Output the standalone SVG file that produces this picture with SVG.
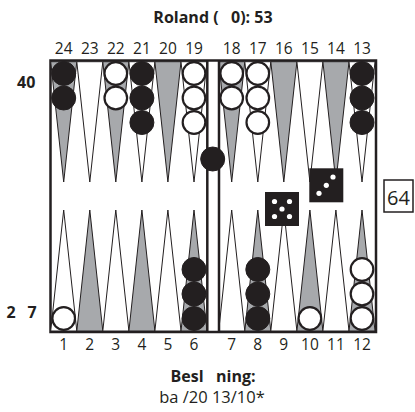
<svg xmlns="http://www.w3.org/2000/svg" width="415" height="412" viewBox="0 0 415 412">
  <style>
    .txt { font-family: "Open Sans", "Noto Sans", sans-serif; fill: #231f20; }
    .b { font-weight: bold; }
    .num { font-size: 15.5px; text-anchor: middle; }
    .pre { white-space: pre; }
    .pt-g { fill: #a7a9ac; stroke: #231f20; stroke-width: 1; stroke-linejoin: miter; }
    .pt-w { fill: #ffffff; stroke: #231f20; stroke-width: 1; }
    .ck-b { fill: #231f20; stroke: #231f20; stroke-width: 1; }
    .ck-w { fill: #ffffff; stroke: #231f20; stroke-width: 2.2; }
    .frame { fill: #ffffff; stroke: #231f20; stroke-width: 2.5; }
    .bar { stroke: #231f20; stroke-width: 2.5; }
    .die { fill: #231f20; }
    .pip { fill: #ffffff; }
  </style>

  <!-- title -->
  <text class="txt b pre" x="213" y="23" font-size="16" text-anchor="middle">Roland (   0): 53</text>

  <!-- board frame -->
  <g id="board">
    <rect class="frame" x="50.5" y="60.5" width="325.5" height="271.5"/>
    <!-- top points 24..19 (left) and 18..13 (right) -->
    <polygon class="pt-g" points="50.7,61.7 76.8,61.7 63.7,182"/>
    <polygon class="pt-w" points="76.8,61.7 102.8,61.7 89.8,182"/>
    <polygon class="pt-g" points="102.8,61.7 128.9,61.7 115.8,182"/>
    <polygon class="pt-w" points="128.9,61.7 154.9,61.7 141.9,182"/>
    <polygon class="pt-g" points="154.9,61.7 181.0,61.7 167.9,182"/>
    <polygon class="pt-w" points="181.0,61.7 207.0,61.7 194.0,182"/>
    <polygon class="pt-g" points="218.7,61.7 244.8,61.7 231.7,182"/>
    <polygon class="pt-w" points="244.8,61.7 270.8,61.7 257.8,182"/>
    <polygon class="pt-g" points="270.8,61.7 296.9,61.7 283.8,182"/>
    <polygon class="pt-w" points="296.9,61.7 322.9,61.7 309.9,182"/>
    <polygon class="pt-g" points="322.9,61.7 349.0,61.7 335.9,182"/>
    <polygon class="pt-w" points="349.0,61.7 375.0,61.7 362.0,182"/>
    <!-- bottom points 1..6 (left) and 7..12 (right) -->
    <polygon class="pt-w" points="50.7,331 76.8,331 63.7,210"/>
    <polygon class="pt-g" points="76.8,331 102.8,331 89.8,210"/>
    <polygon class="pt-w" points="102.8,331 128.9,331 115.8,210"/>
    <polygon class="pt-g" points="128.9,331 154.9,331 141.9,210"/>
    <polygon class="pt-w" points="154.9,331 181.0,331 167.9,210"/>
    <polygon class="pt-g" points="181.0,331 207.0,331 194.0,210"/>
    <polygon class="pt-w" points="218.7,331 244.8,331 231.7,210"/>
    <polygon class="pt-g" points="244.8,331 270.8,331 257.8,210"/>
    <polygon class="pt-w" points="270.8,331 296.9,331 283.8,210"/>
    <polygon class="pt-g" points="296.9,331 322.9,331 309.9,210"/>
    <polygon class="pt-w" points="322.9,331 349.0,331 335.9,210"/>
    <polygon class="pt-g" points="349.0,331 375.0,331 362.0,210"/>
    <!-- bar -->
    <line class="bar" x1="207.3" y1="60.5" x2="207.3" y2="332"/>
    <line class="bar" x1="219" y1="60.5" x2="219" y2="332"/>
  </g>

  <!-- point numbers -->
  <g id="labels-top" class="txt num">
    <text x="63.7" y="54">24</text>
    <text x="89.8" y="54">23</text>
    <text x="115.8" y="54">22</text>
    <text x="141.9" y="54">21</text>
    <text x="167.9" y="54">20</text>
    <text x="194" y="54">19</text>
    <text x="231.7" y="54">18</text>
    <text x="257.8" y="54">17</text>
    <text x="283.8" y="54">16</text>
    <text x="309.9" y="54">15</text>
    <text x="335.9" y="54">14</text>
    <text x="362" y="54">13</text>
  </g>
  <g id="labels-bottom" class="txt num">
    <text x="63.7" y="350">1</text>
    <text x="89.8" y="350">2</text>
    <text x="115.8" y="350">3</text>
    <text x="141.9" y="350">4</text>
    <text x="167.9" y="350">5</text>
    <text x="194" y="350">6</text>
    <text x="231.7" y="350">7</text>
    <text x="257.8" y="350">8</text>
    <text x="283.8" y="350">9</text>
    <text x="309.9" y="350">10</text>
    <text x="335.9" y="350">11</text>
    <text x="362" y="350">12</text>
  </g>

  <!-- pip counts -->
  <text class="txt b" x="17" y="88" font-size="16">40</text>
  <text class="txt b" y="318" font-size="16"><tspan x="6.5">2</tspan><tspan x="27.5">7</tspan></text>

  <!-- checkers -->
  <g id="checkers">
    <!-- point 24 -->
    <circle class="ck-b" cx="63.7" cy="73.5" r="12"/>
    <circle class="ck-b" cx="63.7" cy="98" r="12"/>
    <!-- point 22 -->
    <circle class="ck-w" cx="115.8" cy="73.5" r="11.3"/>
    <circle class="ck-w" cx="115.8" cy="98" r="11.3"/>
    <!-- point 21 -->
    <circle class="ck-b" cx="141.9" cy="73.5" r="12"/>
    <circle class="ck-b" cx="141.9" cy="98" r="12"/>
    <circle class="ck-b" cx="141.9" cy="122.5" r="12"/>
    <!-- point 19 -->
    <circle class="ck-w" cx="194" cy="73.5" r="11.3"/>
    <circle class="ck-w" cx="194" cy="98" r="11.3"/>
    <circle class="ck-w" cx="194" cy="122.5" r="11.3"/>
    <!-- point 18 -->
    <circle class="ck-w" cx="231.7" cy="73.5" r="11.3"/>
    <circle class="ck-w" cx="231.7" cy="98" r="11.3"/>
    <!-- point 17 -->
    <circle class="ck-w" cx="257.8" cy="73.5" r="11.3"/>
    <circle class="ck-w" cx="257.8" cy="98" r="11.3"/>
    <circle class="ck-w" cx="257.8" cy="122.5" r="11.3"/>
    <!-- point 13 -->
    <circle class="ck-b" cx="362" cy="73.5" r="12"/>
    <circle class="ck-b" cx="362" cy="98" r="12"/>
    <circle class="ck-b" cx="362" cy="122.5" r="12"/>
    <!-- point 1 -->
    <circle class="ck-w" cx="63.7" cy="318.5" r="11.3"/>
    <!-- point 6 -->
    <circle class="ck-b" cx="194" cy="318.5" r="12"/>
    <circle class="ck-b" cx="194" cy="294" r="12"/>
    <circle class="ck-b" cx="194" cy="269.5" r="12"/>
    <!-- point 8 -->
    <circle class="ck-b" cx="257.8" cy="318.5" r="12"/>
    <circle class="ck-b" cx="257.8" cy="294" r="12"/>
    <circle class="ck-b" cx="257.8" cy="269.5" r="12"/>
    <!-- point 10 -->
    <circle class="ck-w" cx="309.9" cy="318.5" r="11.3"/>
    <!-- point 12 -->
    <circle class="ck-w" cx="362" cy="318.5" r="11.3"/>
    <circle class="ck-w" cx="362" cy="294" r="11.3"/>
    <circle class="ck-w" cx="362" cy="269.5" r="11.3"/>
    <!-- on the bar -->
    <circle class="ck-b" cx="212.7" cy="159" r="12"/>
  </g>

  <!-- dice -->
  <g id="die-5">
    <rect class="die" x="265" y="192" width="34" height="34"/>
    <circle class="pip" cx="274.5" cy="201.5" r="2.6"/>
    <circle class="pip" cx="289.5" cy="201.5" r="2.6"/>
    <circle class="pip" cx="282" cy="209" r="2.6"/>
    <circle class="pip" cx="274.5" cy="216.5" r="2.6"/>
    <circle class="pip" cx="289.5" cy="216.5" r="2.6"/>
  </g>
  <g id="die-3">
    <rect class="die" x="309.3" y="168.3" width="34" height="34"/>
    <circle class="pip" cx="319" cy="193.3" r="2.6"/>
    <circle class="pip" cx="326.3" cy="185.3" r="2.6"/>
    <circle class="pip" cx="333" cy="177" r="2.6"/>
  </g>

  <!-- doubling cube -->
  <g id="cube">
    <rect x="384" y="180" width="29" height="32" fill="#ffffff" stroke="#231f20" stroke-width="1.5"/>
    <text class="txt" x="398.5" y="204.5" font-size="20" text-anchor="middle">64</text>
  </g>

  <!-- move caption -->
  <text class="txt b pre" x="213" y="382" font-size="16" text-anchor="middle">Besl   ning:</text>
  <text class="txt" x="212" y="403" font-size="16.5" text-anchor="middle">ba /20 13/10*</text>
</svg>
